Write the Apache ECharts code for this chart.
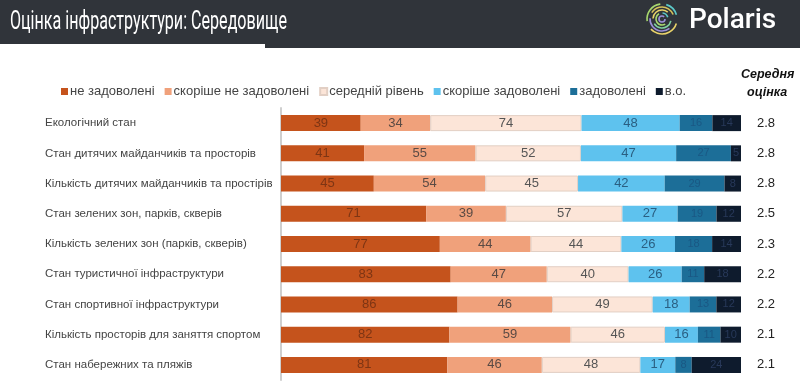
<!DOCTYPE html>
<html><head><meta charset="utf-8">
<script src="https://cdn.jsdelivr.net/npm/echarts@6/dist/echarts.min.js"></script>
<style>html,body{margin:0;padding:0;background:#fff}#c{width:800px;height:382px}</style>
</head><body><div id="c"></div>
<script>
const categories = [
  'Екологічний стан',
  'Стан дитячих майданчиків та просторів',
  'Кількість дитячих майданчиків та простірів',
  'Стан зелених зон, парків, скверів',
  'Кількість зелених зон (парків, скверів)',
  'Стан туристичної інфраструктури',
  'Стан спортивної інфраструктури',
  'Кількість просторів для заняття спортом',
  'Стан набережних та пляжів'
];
const seriesNames = ['не задоволені','скоріше не задоволені','середній рівень','скоріше задоволені','задоволені','в.о.'];
const notSatisfied      = [39, 41, 45, 71, 77, 83, 86, 82, 81];
const ratherNot         = [34, 55, 54, 39, 44, 47, 46, 59, 46];
const average           = [74, 52, 45, 57, 44, 40, 49, 46, 48];
const ratherSatisfied   = [48, 47, 42, 27, 26, 26, 18, 16, 17];
const satisfied         = [16, 27, 29, 19, 18, 11, 13, 11, 8];
const noAnswer          = [14, 5, 8, 12, 14, 18, 12, 10, 24];
const meanScores        = ['2.8','2.8','2.8','2.5','2.3','2.2','2.2','2.1','2.1'];

const allVals = [notSatisfied, ratherNot, average, ratherSatisfied, satisfied, noAnswer];
const colors = ['#c5531c','#f0a17b','#fce5d8','#5ec2ee','#1c6e98','#0e1b2d'];
const labelColors = ['#7e3514','#5a4a44','#555555','#2a5f82','#1a5884','#28395a'];
const totals = categories.map((_, i) => allVals.reduce((s, a) => s + a[i], 0));

const titleText = 'Оцінка інфраструктури: Середовище';
const titleFont = '25px Roboto, sans-serif';
const mctx = document.createElement('canvas').getContext('2d');
mctx.font = titleFont;
const titleScale = 277 / mctx.measureText(titleText).width;

const chart = echarts.init(document.getElementById('c'));
const series = allVals.map((arr, k) => ({
  name: seriesNames[k],
  type: 'bar',
  stack: 'all',
  barWidth: 16,
  itemStyle: {
    color: colors[k],
    borderColor: k === 2 ? '#e2cfc4' : 'rgba(0,0,0,0)',
    borderWidth: k === 2 ? 1 : 0
  },
  label: {
    show: true,
    position: 'inside',
    color: labelColors[k],
    fontSize: k >= 4 ? 11 : 13,
    fontFamily: 'Liberation Sans, Arial, sans-serif',
    formatter: p => p.data.raw
  },
  data: arr.map((v, i) => ({ value: v / totals[i] * 100, raw: v }))
}));

// logo arcs
const cx = 662, cy = 19;
const arcColors = ['#e9d36a','#a8d86e','#5cc9c9','#9b8fd8','#d7c35a','#7fd1a0'];
const arcs = [];
const arcDefs = [[15, 0.3, 2.4], [15, 3.0, 4.6], [15, 5.0, 6.0], [12, 0.9, 3.2], [12, 3.7, 5.9], [9, 0.2, 2.6], [9, 3.2, 5.4], [6, 1.0, 4.2], [6, 4.8, 6.0], [3, 0, 5.5]];
arcDefs.forEach((d, i) => {
  arcs.push({
    type: 'arc', shape: { cx: cx, cy: cy, r: d[0], startAngle: d[1], endAngle: d[2] },
    style: { stroke: arcColors[i % arcColors.length], lineWidth: 1.6, fill: null }
  });
});

chart.setOption({
  animation: false,
  textStyle: { fontFamily: 'Liberation Sans, Arial, sans-serif' },
  graphic: [
    { type: 'rect', shape: { x: 0, y: 0, width: 800, height: 44 }, style: { fill: '#30343a' } },
    { type: 'rect', shape: { x: 265, y: 0, width: 535, height: 48 }, style: { fill: '#30343a' } },
    { type: 'text', x: 10, y: 10, scaleX: titleScale, style: { text: titleText, fill: '#ffffff', font: titleFont } },
    { type: 'text', left: 689, top: 7, style: { text: 'Polaris', fill: '#ffffff', font: '500 28px Roboto, sans-serif' } },
    ...arcs,
    { type: 'text', left: 741, top: 68, style: { text: 'Середня', fill: '#111', font: 'italic bold 12.5px "Liberation Sans", Arial, sans-serif' } },
    { type: 'text', left: 747, top: 86, style: { text: 'оцінка', fill: '#111', font: 'italic bold 12.5px "Liberation Sans", Arial, sans-serif' } }
  ],
  legend: {
    left: 56, top: 80,
    icon: 'rect', itemWidth: 7, itemHeight: 7, itemGap: 10,
    textStyle: { fontSize: 13, color: '#444', padding: [0, 0, 0, -3] },
    data: seriesNames
  },
  grid: { left: 281, right: 59, top: 108, bottom: 2 },
  xAxis: { type: 'value', min: 0, max: 100, show: false },
  yAxis: [
    {
      type: 'category', inverse: true, data: categories,
      axisLine: { show: true, lineStyle: { color: '#cfcfcf', width: 2 } },
      axisTick: { show: false },
      axisLabel: { align: 'left', margin: 236, fontSize: 11.5, color: '#444' }
    },
    {
      type: 'category', inverse: true, data: meanScores, position: 'right',
      axisLine: { show: false }, axisTick: { show: false },
      axisLabel: { align: 'left', margin: 16, fontSize: 13, color: '#222' }
    }
  ],
  series: series
});
</script></body></html>
